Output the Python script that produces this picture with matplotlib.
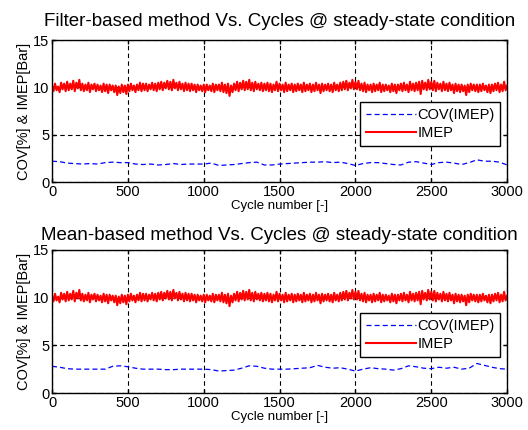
import matplotlib
matplotlib.use("Agg")
import matplotlib.pyplot as plt
import numpy as np

plt.rcParams["font.family"] = ["Liberation Sans", "DejaVu Sans"]

# ── Data ─────────────────────────────────────────────────────────────────────

# IMEP [Bar], sampled every 10 cycles (same engine data in both panels)
imep_cycles = np.arange(0, 3001, 10)
imep_bar = [
    10.2, 9.6, 10.4, 9.7, 10.1, 9.5, 10.5, 9.8, 10.4, 9.6,
    10.6, 9.7, 10.4, 9.8, 10.7, 9.6, 10.5, 9.9, 10.8, 9.7,
    10.4, 9.6, 10.3, 9.7, 10.5, 9.5, 10.3, 9.8, 10.4, 9.6,
    10.3, 9.7, 10.2, 9.5, 10.4, 9.6, 10.3, 9.4, 10.3, 9.7,
    10.2, 9.5, 10.2, 9.2, 10.1, 9.4, 10.3, 9.5, 10.2, 9.3,
    10.3, 9.6, 10.4, 9.7, 10.2, 9.5, 10.3, 9.7, 10.5, 9.6,
    10.4, 9.7, 10.4, 9.6, 10.3, 9.8, 10.5, 9.7, 10.4, 9.6,
    10.5, 9.8, 10.6, 9.7, 10.5, 9.9, 10.7, 9.8, 10.6, 9.7,
    10.8, 9.9, 10.5, 9.7, 10.6, 9.8, 10.4, 9.6, 10.5, 9.7,
    10.4, 9.6, 10.4, 9.7, 10.3, 9.5, 10.3, 9.7, 10.2, 9.6,
    10.3, 9.5, 10.3, 9.7, 10.2, 9.6, 10.4, 9.5, 10.3, 9.7,
    10.3, 9.6, 10.5, 9.5, 10.3, 9.4, 10.4, 9.1, 10.2, 9.5,
    10.4, 9.7, 10.6, 9.6, 10.5, 9.8, 10.7, 9.7, 10.6, 9.8,
    10.8, 9.7, 10.5, 9.6, 10.6, 9.8, 10.4, 9.7, 10.5, 9.6,
    10.4, 9.7, 10.5, 9.6, 10.4, 9.5, 10.3, 9.7, 10.6, 9.6,
    10.4, 9.7, 10.3, 9.5, 10.5, 9.6, 10.3, 9.7, 10.4, 9.5,
    10.3, 9.6, 10.4, 9.7, 10.3, 9.5, 10.5, 9.6, 10.3, 9.7,
    10.4, 9.5, 10.3, 9.6, 10.5, 9.7, 10.3, 9.4, 10.4, 9.6,
    10.3, 9.7, 10.4, 9.6, 10.3, 9.5, 10.5, 9.7, 10.3, 9.6,
    10.5, 9.7, 10.6, 9.8, 10.7, 9.7, 10.5, 9.9, 10.8, 9.8,
    10.6, 9.8, 10.7, 9.7, 10.4, 9.6, 10.5, 9.5, 10.3, 9.7,
    10.3, 9.5, 10.4, 9.6, 10.3, 9.7, 10.5, 9.5, 10.3, 9.6,
    10.3, 9.7, 10.2, 9.5, 10.4, 9.6, 10.3, 9.4, 10.3, 9.7,
    10.4, 9.6, 10.5, 9.7, 10.3, 9.5, 10.6, 9.7, 10.4, 9.6,
    10.5, 9.7, 10.6, 9.3, 10.7, 9.8, 10.5, 9.7, 10.8, 9.8,
    10.6, 9.7, 10.7, 9.6, 10.5, 9.8, 10.4, 9.6, 10.6, 9.7,
    10.4, 9.6, 10.5, 9.7, 10.3, 9.4, 10.4, 9.6, 10.3, 9.5,
    10.3, 9.6, 10.2, 9.2, 10.3, 9.5, 10.4, 9.7, 10.3, 9.6,
    10.3, 9.5, 10.3, 9.6, 10.4, 9.7, 10.2, 9.5, 10.3, 9.4,
    10.3, 9.6, 10.4, 9.7, 10.5, 9.5, 10.3, 9.6, 10.6, 9.7,
    10.2,
]

# COV(IMEP) [%], sampled every 50 cycles
cov_cycles = np.arange(0, 3001, 50)
cov_filter = [
    2.20, 2.15, 2.00, 1.95, 1.90, 1.95, 1.90, 2.05, 2.10, 2.05,
    2.05, 1.90, 1.85, 1.90, 1.80, 1.85, 1.95, 1.85, 1.90, 1.90,
    1.90, 2.00, 1.75, 1.80, 1.85, 1.95, 2.05, 2.10, 1.80, 1.80,
    1.90, 1.95, 2.00, 2.05, 2.10, 2.10, 2.15, 2.05, 2.10, 1.95,
    1.75, 1.95, 2.05, 2.05, 1.95, 1.85, 1.80, 2.10, 2.15, 2.00,
    1.85, 2.05, 2.10, 2.00, 1.85, 2.05, 2.35, 2.20, 2.20, 2.10,
    1.80,
]
cov_mean = [
    2.80, 2.70, 2.55, 2.50, 2.50, 2.50, 2.50, 2.50, 2.80, 2.85,
    2.75, 2.60, 2.50, 2.50, 2.50, 2.45, 2.45, 2.50, 2.50, 2.50,
    2.50, 2.45, 2.30, 2.35, 2.40, 2.60, 2.85, 2.80, 2.60, 2.50,
    2.50, 2.50, 2.55, 2.60, 2.65, 2.90, 2.70, 2.60, 2.65, 2.50,
    2.30, 2.50, 2.65, 2.55, 2.50, 2.40, 2.55, 2.85, 2.75, 2.60,
    2.55, 2.70, 2.60, 2.70, 2.50, 2.60, 3.10, 2.90, 2.70, 2.55,
    2.50,
]

panels = [
    ("Filter-based method Vs. Cycles @ steady-state condition", cov_filter,
     [0.0985, 0.5767, 0.862, 0.330], 0.563, 10),
    ("Mean-based method Vs. Cycles @ steady-state condition", cov_mean,
     [0.0985, 0.0860, 0.862, 0.333], 0.559, 7),
]

# ── Plot ─────────────────────────────────────────────────────────────────────

fig = plt.figure(figsize=(5.28, 4.30), dpi=100)
fig.patch.set_facecolor("white")

for title, cov, rect, leg_top, tpad in panels:
    ax = fig.add_axes(rect)
    ax.plot(cov_cycles, cov, color="#0000ff", linewidth=0.9,
            linestyle=(0, (4, 2.5)), label="COV(IMEP)")
    ax.plot(imep_cycles, imep_bar, color="#ff0000", linewidth=1.5,
            label="IMEP")

    ax.set_xlim(0, 3000)
    ax.set_ylim(0, 15)
    ax.set_xticks(np.arange(0, 3001, 500))
    ax.set_yticks([0, 5, 10, 15])
    ax.grid(True, color="black", linestyle=(0, (4, 3)), linewidth=0.8)
    ax.set_axisbelow(True)
    ax.tick_params(direction="in", top=True, right=True, length=3,
                   width=1, labelsize=10.5, pad=2)
    for s in ax.spines.values():
        s.set_linewidth(1.0)
        s.set_color("black")

    ax.set_title(title, fontsize=13.5, pad=tpad)
    ax.set_xlabel("Cycle number [-]", fontsize=9.5, labelpad=1)
    ax.set_ylabel("COV[%] & IMEP[Bar]", fontsize=10.5, labelpad=1)

    leg = ax.legend(loc="upper right", bbox_to_anchor=(0.985, leg_top),
                    fancybox=False, framealpha=1, edgecolor="black",
                    fontsize=10.5, handlelength=3.4, handletextpad=0.1,
                    borderpad=0.4, labelspacing=0.3, borderaxespad=0)
    leg.get_frame().set_linewidth(1.0)

plt.savefig("out.png", dpi=100, facecolor=fig.get_facecolor())
plt.close()
